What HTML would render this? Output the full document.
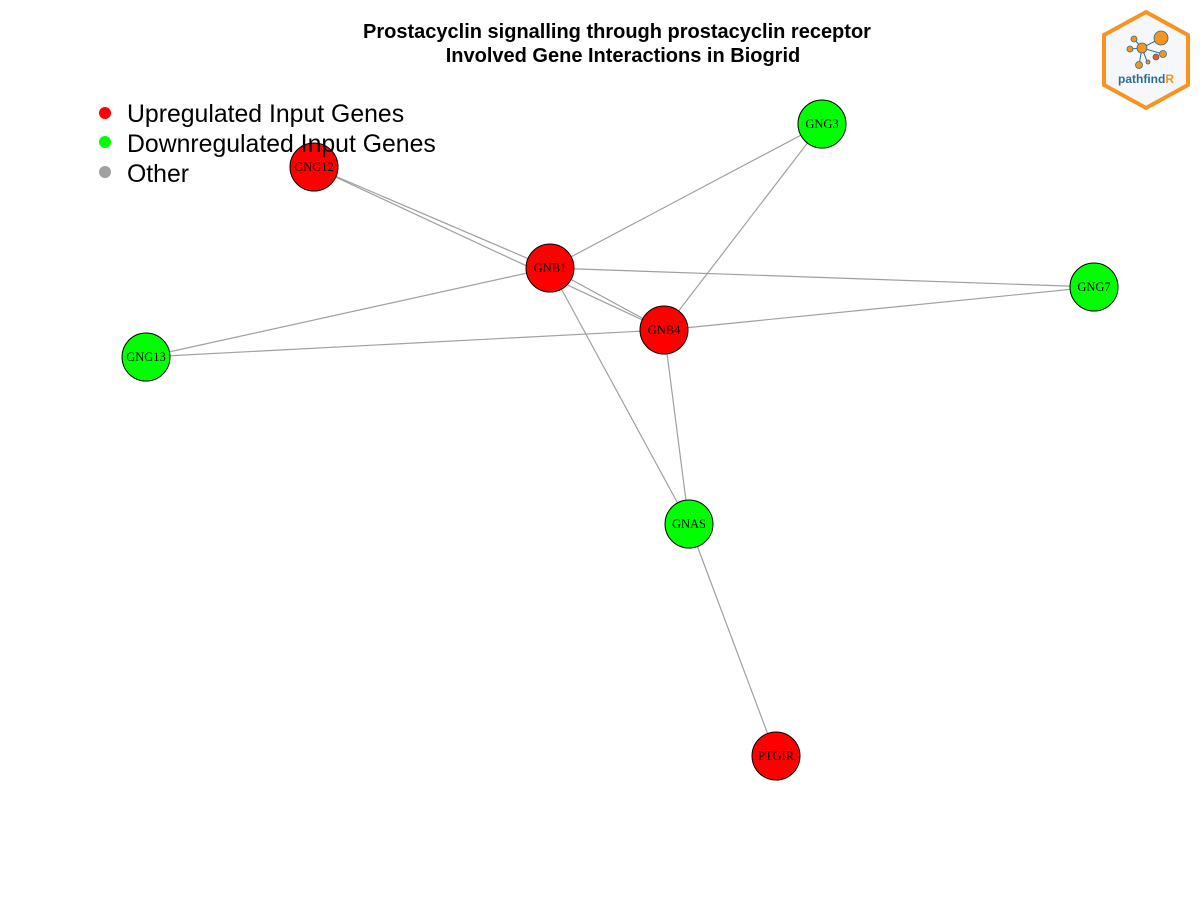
<!DOCTYPE html>
<html><head><style>body{margin:0;background:#fff}svg{display:block}</style></head><body>
<svg width="1200" height="900" xmlns="http://www.w3.org/2000/svg">
<rect width="1200" height="900" fill="#fff"/>
<text x="617" y="38" text-anchor="middle" font-family="Liberation Sans, sans-serif" font-weight="bold" font-size="20">Prostacyclin signalling through prostacyclin receptor</text>
<text x="623" y="62" text-anchor="middle" font-family="Liberation Sans, sans-serif" font-weight="bold" font-size="20">Involved Gene Interactions in Biogrid</text>
<g stroke="#a0a0a0" stroke-width="1.2">
<line x1="314" y1="167" x2="550" y2="268"/>
<line x1="314" y1="167" x2="664" y2="330"/>
<line x1="822" y1="124" x2="550" y2="268"/>
<line x1="822" y1="124" x2="664" y2="330"/>
<line x1="550" y1="268" x2="1094" y2="287"/>
<line x1="664" y1="330" x2="1094" y2="287"/>
<line x1="550" y1="268" x2="146" y2="357"/>
<line x1="664" y1="330" x2="146" y2="357"/>
<line x1="550" y1="268" x2="664" y2="330"/>
<line x1="550" y1="268" x2="689" y2="524"/>
<line x1="664" y1="330" x2="689" y2="524"/>
<line x1="689" y1="524" x2="776" y2="756"/>
</g>
<g stroke="#000" stroke-width="1" font-family="Liberation Serif, serif" font-size="12.5" text-anchor="middle">
<circle cx="822" cy="124" r="24" fill="#00ff00"/>
<circle cx="314" cy="167" r="24" fill="#ff0000"/>
<circle cx="550" cy="268" r="24" fill="#ff0000"/>
<circle cx="1094" cy="287" r="24" fill="#00ff00"/>
<circle cx="664" cy="330" r="24" fill="#ff0000"/>
<circle cx="146" cy="357" r="24" fill="#00ff00"/>
<circle cx="689" cy="524" r="24" fill="#00ff00"/>
<circle cx="776" cy="756" r="24" fill="#ff0000"/>
<g stroke="none" fill="#000">
<text x="822" y="128">GNG3</text>
<text x="314" y="171">GNG12</text>
<text x="550" y="272">GNB1</text>
<text x="1094" y="291">GNG7</text>
<text x="664" y="334">GNB4</text>
<text x="146" y="361">GNG13</text>
<text x="689" y="528">GNAS</text>
<text x="776" y="760">PTGIR</text>
</g></g>
<g font-family="Liberation Sans, sans-serif" font-size="24.8">
<circle cx="105" cy="113" r="6" fill="#ff0000"/><text x="127" y="122">Upregulated Input Genes</text>
<circle cx="105" cy="142" r="6" fill="#00ff00"/><text x="127" y="152">Downregulated Input Genes</text>
<circle cx="105" cy="172" r="6" fill="#a0a0a0"/><text x="127" y="182">Other</text>
</g>
<polygon points="1146,12 1188,35 1188,85 1146,108 1104,85 1104,35" fill="#f5f7fa" stroke="#f7931e" stroke-width="4"/>
<g stroke="#2a6f8f" stroke-width="1">
<line x1="1142" y1="48" x2="1161" y2="38"/><line x1="1142" y1="48" x2="1130" y2="49"/><line x1="1142" y1="48" x2="1134" y2="39"/>
<line x1="1142" y1="48" x2="1163" y2="54"/><line x1="1142" y1="48" x2="1148" y2="64"/><line x1="1142" y1="48" x2="1139" y2="65"/>
</g>
<g fill="#f7931e" stroke="#2a6f8f" stroke-width="0.8">
<circle cx="1161" cy="38" r="7"/><circle cx="1142" cy="48" r="5"/><circle cx="1134" cy="39" r="3"/>
<circle cx="1130" cy="49" r="3"/><circle cx="1163" cy="54" r="3.5"/><circle cx="1156" cy="57" r="3" fill="#e85d1a"/>
<circle cx="1139" cy="65" r="3.5"/><circle cx="1148" cy="62" r="2"/>
</g>
<text x="1118" y="83" font-family="Liberation Sans, sans-serif" font-weight="bold" font-size="12" fill="#2a6f8f">pathfind<tspan fill="#f7931e">R</tspan></text>
</svg>
</body></html>
